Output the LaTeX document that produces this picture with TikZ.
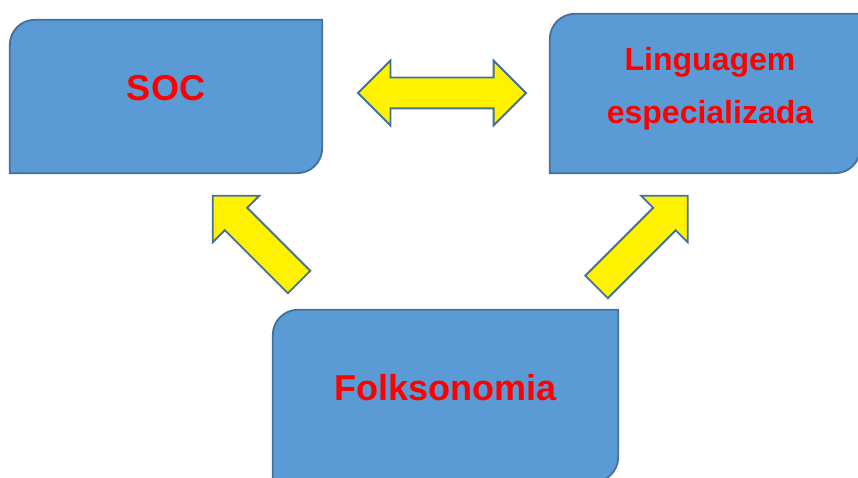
\documentclass[tikz,border=0pt]{standalone}
\usepackage{fontspec}
\setmainfont{Liberation Sans}
\usetikzlibrary{shapes.arrows}
\definecolor{boxblue}{HTML}{5B9BD5}
\definecolor{edgeblue}{HTML}{41719C}
\tikzset{
  caixa/.style={minimum width=#1,inner sep=0pt},
  rotulo/.style={text=red,font=\bfseries\fontsize{36}{43}\selectfont,align=center},
  seta/.style={single arrow,draw=edgeblue,fill=yellow,line width=1.8pt,inner xsep=0pt,inner ysep=15pt,single arrow head extend=17pt},
  setadupla/.style={double arrow,draw=edgeblue,fill=yellow,line width=1.8pt,inner xsep=0pt,inner ysep=14.5pt,double arrow head extend=17pt}
}
% box with round top-left and bottom-right corners
\newcommand\contorno[1]{%
  \draw[draw=edgeblue,fill=boxblue,line width=1.8pt] (#1.south west) -- ([yshift=-25pt]#1.north west)
    arc[start angle=180,end angle=90,radius=25pt] -- (#1.north east) -- ([yshift=25pt]#1.south east)
    arc[start angle=0,end angle=-90,radius=25pt] -- cycle;}
\begin{document}
\begin{tikzpicture}[x=1pt,y=1pt]
\useasboundingbox (0,0) rectangle (858,478);

\node[caixa=312pt,minimum height=153pt] (soc) at (166,381.5) {};
\node[caixa=310pt,minimum height=159pt] (ling) at (705,384.5) {};
\node[caixa=345pt,minimum height=172pt] (folk) at (445.5,82) {};
\foreach \b in {soc,ling,folk} \contorno{\b};

\node[rotulo] (socT) at ([yshift=8pt]soc.center) {SOC};
\node[rotulo,font=\bfseries\fontsize{32}{53}\selectfont] (lingT) at ([xshift=5pt,yshift=5pt]ling.center) {Linguagem\\especializada};
\node[rotulo] (folkT) at ([yshift=8.5pt]folk.center) {Folksonomia};

\node[setadupla,minimum height=168pt] (ida) at (442,385) {};
\node[seta,minimum height=122pt,rotate=135] (subSoc) at (261.5,233.5) {};
\node[seta,minimum height=129pt,rotate=45] (subLing) at (636.5,231) {};
\end{tikzpicture}
\end{document}
